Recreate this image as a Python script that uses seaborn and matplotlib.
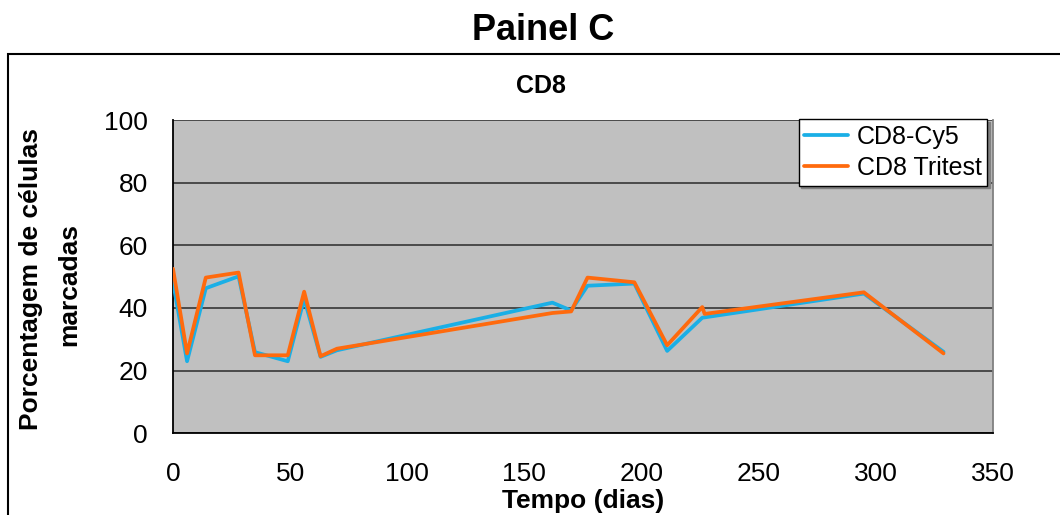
import matplotlib
matplotlib.use("Agg")
import matplotlib.pyplot as plt
from matplotlib.patches import Rectangle
import seaborn as sns
import pandas as pd

# ---- data ----
dias = [0, 6, 14, 28, 35, 49, 56, 63, 70, 162, 170, 177, 197, 211, 226, 227, 295, 329]
cd8_cy5 = [48.4, 23.0, 46.3, 50.1, 25.9, 23.0, 43.0, 24.4, 26.5, 41.7, 39.2, 47.1, 47.8, 26.3, 36.9, 37.0, 44.6, 26.0]
cd8_tritest = [52.5, 25.5, 49.7, 51.3, 24.9, 24.9, 45.2, 24.6, 27.0, 38.4, 38.9, 49.7, 48.2, 28.1, 40.3, 38.1, 45.0, 25.5]
series_names = ["CD8-Cy5", "CD8 Tritest"]
x_ticks = [0, 50, 100, 150, 200, 250, 300, 350]
y_ticks = [0, 20, 40, 60, 80, 100]

df = pd.DataFrame({
    "Tempo": dias + dias,
    "valor": cd8_cy5 + cd8_tritest,
    "serie": [series_names[0]] * len(dias) + [series_names[1]] * len(dias),
})

sns.set_style("white")
plt.rcParams["font.family"] = ["Liberation Sans", "DejaVu Sans"]
plt.rcParams["text.color"] = "black"
plt.rcParams["axes.labelcolor"] = "black"
plt.rcParams["xtick.color"] = "black"
plt.rcParams["ytick.color"] = "black"

W, H = 1060, 515
fig = plt.figure(figsize=(W / 100, H / 100), dpi=100)
ax = fig.add_axes([173 / W, (H - 433.3) / H, 819.7 / W, 313.3 / H])
ax.set_facecolor("#C0C0C0")

palette = {series_names[0]: "#1AAFE6", series_names[1]: "#FF6A0D"}
sns.lineplot(data=df, x="Tempo", y="valor", hue="serie", palette=palette,
             estimator=None, sort=False, linewidth=2.7, ax=ax, zorder=3)

ax.set_xlim(0, 350)
ax.set_ylim(0, 100)
ax.set_xticks(x_ticks)
ax.set_yticks(y_ticks)
ax.yaxis.grid(True, color="#2a2a2a", linewidth=1.1, zorder=1)
ax.xaxis.grid(False)
ax.set_axisbelow(True)

for s in ["left", "bottom"]:
    ax.spines[s].set_color("black")
    ax.spines[s].set_linewidth(1.3)
ax.spines["top"].set_visible(False)
ax.spines["right"].set_color("#808080")
ax.spines["right"].set_linewidth(1.3)

ax.tick_params(axis="both", direction="out", length=6, width=1.2, color="black",
               labelcolor="black", labelsize=19)
ax.tick_params(axis="x", pad=15)
ax.tick_params(axis="y", pad=12)

ax.set_xlabel("Tempo (dias)", fontsize=19, fontweight="bold", labelpad=2, color="black")
ax.set_ylabel("")

# y label as two lines
fig.text(31 / W, 1 - 279 / H, "Porcentagem de células", rotation=90,
         ha="center", va="center", fontsize=19, fontweight="bold", color="black")
fig.text(69 / W, 1 - 285 / H, "marcadas", rotation=90,
         ha="center", va="center", fontsize=19, fontweight="bold", color="black")

# titles
fig.text(543 / W, 1 - 31 / H, "Painel C", ha="center", va="center",
         fontsize=26, fontweight="bold", color="black")
fig.text(541 / W, 1 - 86 / H, "CD8", ha="center", va="center",
         fontsize=18, fontweight="bold", color="black")

# outer chart frame
frame = Rectangle((8 / W, -0.2), 1.2, (1 - 54 / H) + 0.2, transform=fig.transFigure,
                  fill=False, edgecolor="black", linewidth=1.5, clip_on=False)
fig.add_artist(frame)

# legend
handles, labels = ax.get_legend_handles_labels()
leg = ax.legend(handles, labels, loc="upper right", bbox_to_anchor=(0.993, 1.003),
                fontsize=18, frameon=True, fancybox=False, edgecolor="black",
                facecolor="white", framealpha=1, handlelength=1.75,
                handletextpad=0.35, labelspacing=0.3, borderpad=0.22,
                borderaxespad=0, shadow={"color": "#808080", "alpha": 1})
leg.get_frame().set_linewidth(1.0)
for t in leg.get_texts():
    t.set_color("black")
for line in leg.get_lines():
    line.set_linewidth(2.7)

fig.savefig("out.png", dpi=100)
